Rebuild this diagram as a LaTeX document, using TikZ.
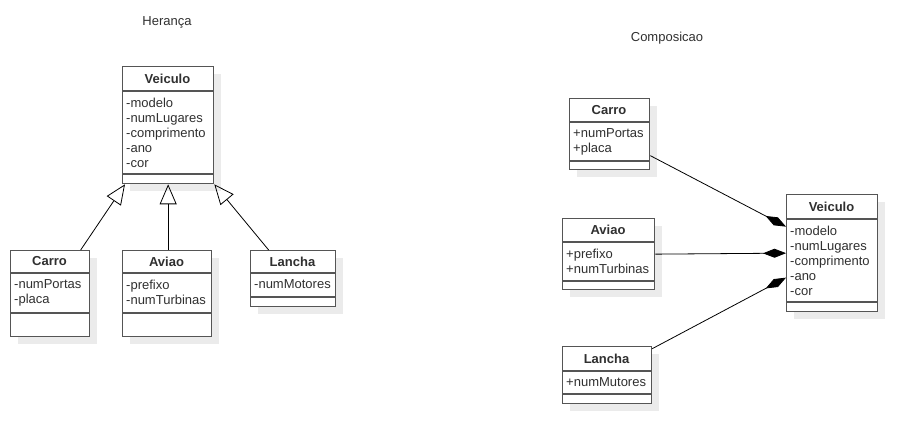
\documentclass[tikz,border=0pt]{standalone}
\usepackage{fontspec}
\setmainfont{Liberation Sans}
\usetikzlibrary{positioning,arrows.meta,shadows}

\definecolor{umlgray}{HTML}{555555}
\definecolor{umltext}{HTML}{303030}

% #1 name, #2 left, #3 top, #4 width, #5 header line, #6 attribute line, #7 bottom, #8 title, #9 attributes
\newcommand{\umlclass}[9]{%
  \node[classbox, minimum width=#4, minimum height=#7-#3, anchor=north west] (#1) at (#2,#3) {};
  \node[classtitle] (#1-title) at ({#2+#4/2},{(#3+#5)/2}) {#8};
  \node[classattr] (#1-attr) at (#2+4,#5+6.5) {#9};
  \draw[classline] (#2,#5) -- (#2+#4,#5) (#2,#6) -- (#2+#4,#6);
}

\begin{document}
\begin{tikzpicture}[x=1pt, y=-1pt,
        classbox/.style={draw=umlgray, line width=1.3pt, fill=white, inner sep=0pt,
          drop shadow={shadow xshift=7pt, shadow yshift=-7pt, opacity=1, fill=black!8}},
        classline/.style={draw=umlgray, line width=1.3pt},
        classtitle/.style={inner sep=0pt, text=umltext, font=\fontsize{13}{15}\selectfont\bfseries},
        classattr/.style={anchor=north west, inner sep=0pt, align=left, text=umltext, font=\fontsize{13}{15}\selectfont},
        heading/.style={inner sep=0pt, text=umltext, font=\fontsize{13}{15}\selectfont},
        inherit/.style={draw=black, line width=0.8pt, -{Triangle[open, length=20pt, width=17pt]}},
        compose/.style={draw=black, line width=0.8pt, -{Diamond[length=23pt, width=9pt]}}]
        \useasboundingbox (0,0) rectangle (917,443);

        % heranca
        \node[heading] (heranca) at (167,22) {Herança};
        \umlclass{veicL}{122}{66}{91}{91}{174}{183}{Veiculo}{-modelo\\-numLugares\\-comprimento\\-ano\\-cor}
        \umlclass{carroL}{10}{250}{79}{273}{313}{336}{Carro}{-numPortas\\-placa}
        \umlclass{aviaoL}{122}{250}{89}{273}{313}{336}{Aviao}{-prefixo\\-numTurbinas}
        \umlclass{lanchaL}{250}{250}{85}{273}{297}{306}{Lancha}{-numMotores}
        \draw[inherit] ([xshift=30.5pt]carroL.north) -- ([xshift=3pt]veicL.south west);
        \draw[inherit] (aviaoL.north -| veicL.south) -- (veicL.south);
        \draw[inherit] ([xshift=-24.5pt]lanchaL.north) -- (veicL.south east);

        % composicao
        \node[heading] (composicao) at (667,38) {Composicao};
        \umlclass{carroC}{569}{98}{80}{122}{161}{169}{Carro}{+numPortas\\+placa}
        \umlclass{aviaoC}{562}{218}{92}{242}{281}{289}{Aviao}{+prefixo\\+numTurbinas}
        \umlclass{lanchaC}{562}{346}{89}{371}{394}{403}{Lancha}{+numMutores}
        \umlclass{veicC}{786}{194}{91}{219}{302}{311}{Veiculo}{-modelo\\-numLugares\\-comprimento\\-ano\\-cor}
        \draw[compose] ([yshift=-21.5pt]carroC.east) -- ([yshift=26.5pt]veicC.west);
        \draw[compose] (aviaoC.east) -- (veicC.west);
        \draw[compose] ([yshift=26.5pt]lanchaC.east) -- ([yshift=-24.5pt]veicC.west);
\end{tikzpicture}
\end{document}
